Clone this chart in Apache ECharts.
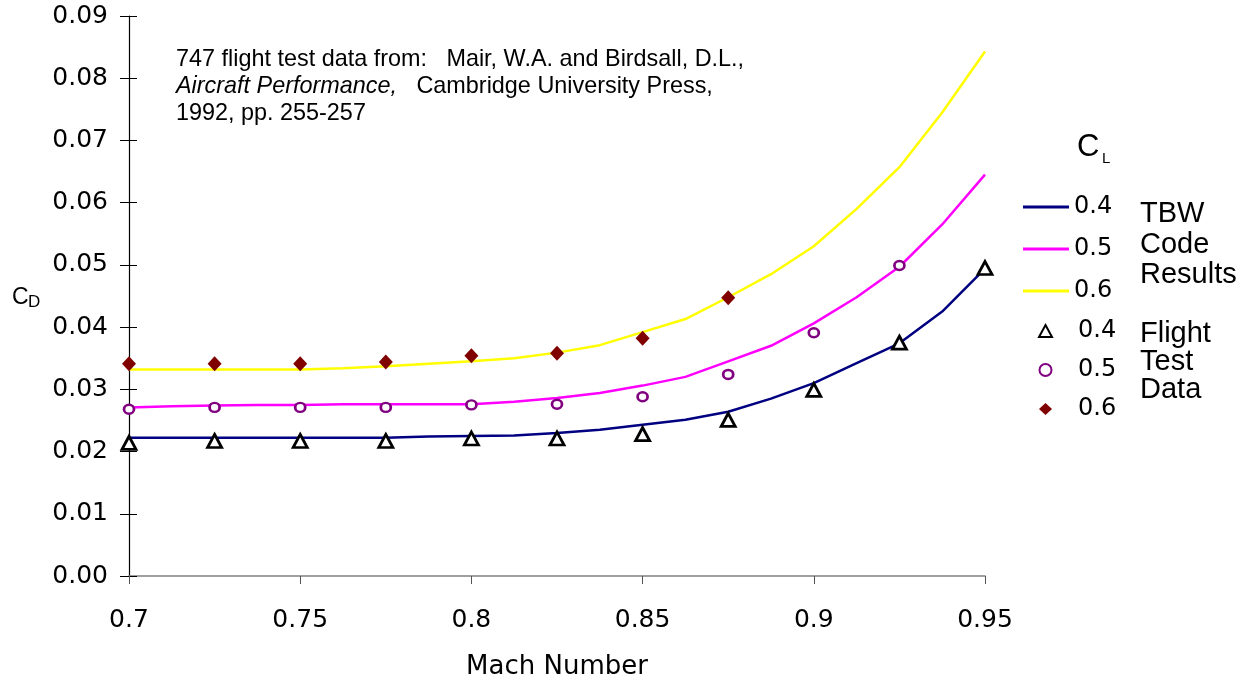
<!DOCTYPE html>
<html>
<head>
<meta charset="utf-8">
<script src="https://cdn.jsdelivr.net/npm/echarts@6/dist/echarts.min.js"></script>
<style>html,body{margin:0;padding:0;background:#fff}#c{width:1250px;height:682px}</style>
</head>
<body>
<div id="c"></div>
<script>
// TBW code results (Mach grid)
const codeMach = [0.7,0.7125,0.725,0.7375,0.75,0.7625,0.775,0.7875,0.8,0.8125,0.825,0.8375,0.85,0.8625,0.875,0.8875,0.9,0.9125,0.925,0.9375,0.95];
const tbw04 = [0.0222,0.0222,0.0222,0.0222,0.0222,0.0222,0.0222,0.0224,0.0225,0.0226,0.0230,0.0235,0.0243,0.0251,0.0264,0.0285,0.0310,0.0342,0.0374,0.0425,0.0494];
const tbw05 = [0.0271,0.0273,0.0274,0.0275,0.0275,0.0276,0.0276,0.0276,0.0276,0.0280,0.0286,0.0294,0.0306,0.0320,0.0345,0.0370,0.0406,0.0448,0.0497,0.0565,0.0645];
const tbw06 = [0.0332,0.0332,0.0332,0.0332,0.0332,0.0334,0.0337,0.0341,0.0345,0.0350,0.0359,0.0371,0.0392,0.0413,0.0448,0.0485,0.0530,0.0590,0.0657,0.0745,0.0843];
// Flight test data
const flightMach = [0.7,0.725,0.75,0.775,0.8,0.825,0.85,0.875,0.9,0.925,0.95];
const flt04 = [0.0214,0.0217,0.0217,0.0217,0.0221,0.0221,0.0228,0.0251,0.0299,0.0375,0.0495];
const flt05 = [0.0268,0.0271,0.0271,0.0271,0.0275,0.0276,0.0288,0.0324,0.0391,0.0499];
const flt06 = [0.0341,0.0341,0.0341,0.0344,0.0354,0.0358,0.0382,0.0447];
// tick labels
const xTickLabels = ['0.7','0.75','0.8','0.85','0.9','0.95'];
const yTickLabels = ['0.00','0.01','0.02','0.03','0.04','0.05','0.06','0.07','0.08','0.09'];
const lineNames = ['TBW 0.4','TBW 0.5','TBW 0.6'];
const markNames = ['Flight 0.4','Flight 0.5','Flight 0.6'];

const pairs = (xs, ys) => ys.map((y, i) => [xs[i], y]);
const tickFont = 'DejaVu Sans';

const chart = echarts.init(document.getElementById('c'), null, {renderer: 'canvas'});
const option = {
  backgroundColor: '#fff',
  animation: false,
  grid: {left: 129, right: 265, top: 16, bottom: 106, containLabel: false, outerBoundsMode: 'none'},
  xAxis: {
    type: 'value', min: 0.7, max: 0.95, interval: 0.05,
    name: 'Mach Number', nameLocation: 'middle', nameGap: 78,
    nameTextStyle: {fontFamily: tickFont, fontSize: 26, color: '#000'},
    axisLine: {show: true, onZero: false, lineStyle: {color: '#808080', width: 1.7}},
    axisTick: {show: true, length: 8, lineStyle: {color: '#555', width: 1}},
    axisLabel: {margin: 32, fontFamily: tickFont, fontSize: 25, color: '#000',
      formatter: v => xTickLabels[Math.round((v - 0.7) / 0.05)]},
    splitLine: {show: false}
  },
  yAxis: [{
    type: 'value', min: 0, max: 0.09, interval: 0.01,
    axisLine: {show: true, lineStyle: {color: '#000', width: 1.2}},
    axisTick: {show: true, length: 9, lineStyle: {color: '#000', width: 1}},
    axisLabel: {margin: 21, fontFamily: tickFont, fontSize: 25, color: '#000',
      formatter: v => yTickLabels[Math.round(v / 0.01)]},
    splitLine: {show: false}
  }, {
    type: 'value', min: 0, max: 0.09, interval: 0.01, position: 'left',
    axisLine: {show: false},
    axisTick: {show: true, inside: true, length: 8, lineStyle: {color: '#000', width: 1}},
    axisLabel: {show: false},
    splitLine: {show: false}
  }],
  legend: [{
    orient: 'vertical', left: 1023, top: 195, padding: 0, itemWidth: 46, itemHeight: 3, itemGap: 18,
    data: lineNames.map(n => ({name: n, icon: 'rect'})),
    formatter: n => n.split(' ')[1],
    textStyle: {fontFamily: tickFont, fontSize: 24, color: '#000'},
    selectedMode: false
  }, {
    orient: 'vertical', left: 1038, top: 319, padding: 0, itemWidth: 13, itemHeight: 12, itemGap: 15,
    data: markNames,
    formatter: n => n.split(' ')[1],
    textStyle: {fontFamily: tickFont, fontSize: 24, color: '#000', padding: [0, 0, 0, 21]},
    selectedMode: false
  }],
  series: [
    {name: lineNames[0], type: 'line', data: pairs(codeMach, tbw04), symbol: 'none', color: '#000080', lineStyle: {color: '#000080', width: 2.5}, z: 2},
    {name: lineNames[1], type: 'line', data: pairs(codeMach, tbw05), symbol: 'none', color: '#ff00ff', lineStyle: {color: '#ff00ff', width: 2.5}, z: 2},
    {name: lineNames[2], type: 'line', data: pairs(codeMach, tbw06), symbol: 'none', color: '#ffff00', lineStyle: {color: '#ffff00', width: 2.5}, z: 2},
    {name: markNames[0], type: 'scatter', data: pairs(flightMach, flt04), symbol: 'triangle', symbolSize: [14, 13],
      itemStyle: {color: '#fff', borderColor: '#000', borderWidth: 2.8, opacity: 1}, z: 3},
    {name: markNames[1], type: 'scatter', data: pairs(flightMach, flt05), symbol: 'circle', symbolSize: [10, 9],
      itemStyle: {color: '#fff', borderColor: '#800080', borderWidth: 2.6, opacity: 1}, z: 3},
    {name: markNames[2], type: 'scatter', data: pairs(flightMach, flt06), symbol: 'diamond', symbolSize: [14, 15],
      itemStyle: {color: '#800000', opacity: 1}, z: 3}
  ],
  graphic: [
    {type: 'text', x: 176, y: 46, style: {
      text: '747 flight test data from:   Mair, W.A. and Birdsall, D.L.,\n{i|Aircraft Performance,}   Cambridge University Press,\n1992, pp. 255-257',
      fontFamily: 'Liberation Sans', fontSize: 23.4, lineHeight: 27, fill: '#000', verticalAlign: 'top',
      rich: {i: {fontStyle: 'italic', fontFamily: 'Liberation Sans', fontSize: 23.4, lineHeight: 27}}
    }},
    {type: 'text', x: 12, y: 298, style: {text: 'C', fontFamily: 'Liberation Sans', fontSize: 23, fill: '#000', verticalAlign: 'middle'}},
    {type: 'text', x: 28, y: 302, style: {text: 'D', fontFamily: 'Liberation Sans', fontSize: 17, fill: '#000', verticalAlign: 'middle'}},
    {type: 'text', x: 1077, y: 147, style: {text: 'C', fontFamily: 'Liberation Sans', fontSize: 31, fill: '#000', verticalAlign: 'middle'}},
    {type: 'text', x: 1102, y: 159, style: {text: 'L', fontFamily: 'Liberation Sans', fontSize: 15, fill: '#000', verticalAlign: 'middle'}},
    {type: 'text', x: 1140, y: 199, style: {text: 'TBW\nCode\nResults', fontFamily: 'Liberation Sans', fontSize: 29, lineHeight: 30.5, fill: '#000', verticalAlign: 'top'}},
    {type: 'text', x: 1140, y: 320, style: {text: 'Flight\nTest\nData', fontFamily: 'Liberation Sans', fontSize: 29, lineHeight: 28, fill: '#000', verticalAlign: 'top'}}
  ]
};
chart.setOption(option);
</script>
</body>
</html>
